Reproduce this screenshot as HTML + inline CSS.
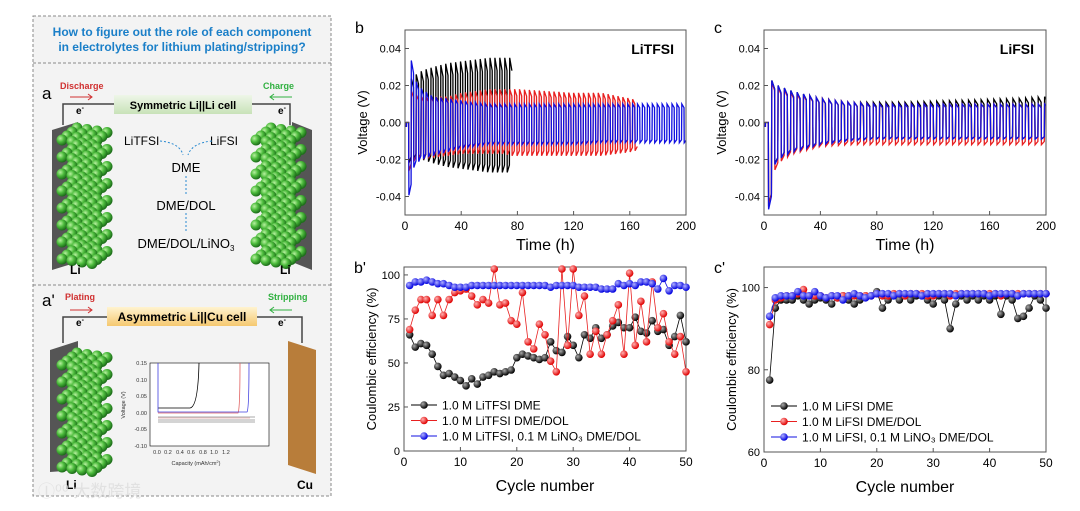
<!DOCTYPE html>
<html><head><meta charset="utf-8"><style>
body{margin:0;background:#fff;}
svg{display:block;font-family:"Liberation Sans","Noto Sans CJK SC",sans-serif;}
</style></head><body>
<svg id="fig" width="1080" height="511" viewBox="0 0 1080 511">
<defs>
<radialGradient id="ball" cx="35%" cy="35%" r="65%"><stop offset="0" stop-color="#b8f0a0"/><stop offset="0.5" stop-color="#4cbb3c"/><stop offset="1" stop-color="#1d6e1a"/></radialGradient>
<radialGradient id="bk" cx="35%" cy="35%" r="65%"><stop offset="0" stop-color="#aaa"/><stop offset="1" stop-color="#000"/></radialGradient>
<radialGradient id="rd" cx="35%" cy="35%" r="65%"><stop offset="0" stop-color="#ffb0b0"/><stop offset="1" stop-color="#e00000"/></radialGradient>
<radialGradient id="bl" cx="35%" cy="35%" r="65%"><stop offset="0" stop-color="#b0b0ff"/><stop offset="1" stop-color="#0000e0"/></radialGradient>
<linearGradient id="g1" x1="0" y1="0" x2="0" y2="1"><stop offset="0" stop-color="#eef6e8"/><stop offset="1" stop-color="#c8e2b8"/></linearGradient>
<linearGradient id="g2" x1="0" y1="0" x2="0" y2="1"><stop offset="0" stop-color="#fff3d0"/><stop offset="1" stop-color="#f5c870"/></linearGradient>
</defs>
<g>
<rect x="33" y="16" width="298" height="480" fill="#f3f3f3" stroke="#888" stroke-dasharray="3,2"/>
<line x1="33" y1="63" x2="331" y2="63" stroke="#888" stroke-dasharray="3,2"/>
<line x1="33" y1="285" x2="331" y2="285" stroke="#888" stroke-dasharray="3,2"/>
<text x="182" y="36" text-anchor="middle" font-size="12" font-weight="bold" fill="#1a7fc8">How to figure out the role of each component</text>
<text x="182" y="51" text-anchor="middle" font-size="12" font-weight="bold" fill="#1a7fc8">in electrolytes for lithium plating/stripping?</text>
<text x="42" y="99" font-size="17">a</text>
<text x="60" y="89" font-size="9" font-weight="bold" fill="#d03030">Discharge</text>
<text x="263" y="89" font-size="9" font-weight="bold" fill="#30b040">Charge</text>
<path d="M70 97h22M88 94l4 3-4 3" stroke="#d03030" fill="none"/>
<path d="M270 97h22M274 94l-4 3 4 3" stroke="#30b040" fill="none"/>
<path d="M63 125V104H290V125" stroke="#444" stroke-width="1.5" fill="none"/>
<rect x="114" y="95" width="138" height="19" fill="url(#g1)"/>
<text x="183" y="109" text-anchor="middle" font-size="11" font-weight="bold">Symmetric Li||Li cell</text>
<text x="76" y="114" font-size="10" font-weight="bold">e<tspan font-size="7" dy="-4">-</tspan></text>
<text x="278" y="114" font-size="10" font-weight="bold">e<tspan font-size="7" dy="-4">-</tspan></text>
<polygon points="52,130 78,122 78,262 52,270" fill="#555"/>
<polygon points="292,122 312,130 312,270 292,262" fill="#555"/>
<g id="balls1"></g>
<g id="balls3"></g>
<text x="124" y="145" font-size="12">LiTFSI</text>
<text x="210" y="145" font-size="12">LiFSI</text>
<path d="M160 141q20 2 23 14M212 141q-20 2 -24 14M186 176v18M186 213v18" stroke="#2a8ad0" stroke-dasharray="2,2" fill="none"/>
<text x="186" y="172" text-anchor="middle" font-size="13">DME</text>
<text x="186" y="210" text-anchor="middle" font-size="13">DME/DOL</text>
<text x="186" y="248" text-anchor="middle" font-size="13">DME/DOL/LiNO<tspan font-size="8" dy="3">3</tspan></text>
<text x="70" y="274" font-size="12" font-weight="bold">Li</text>
<text x="280" y="274" font-size="12" font-weight="bold">Li</text>
<text x="42" y="306" font-size="17">a'</text>
<text x="65" y="300" font-size="9" font-weight="bold" fill="#d03030">Plating</text>
<text x="268" y="300" font-size="9" font-weight="bold" fill="#30b040">Stripping</text>
<path d="M70 310h22M88 307l4 3-4 3" stroke="#d03030" fill="none"/>
<path d="M270 310h22M274 307l-4 3 4 3" stroke="#30b040" fill="none"/>
<path d="M63 343V317H302V343" stroke="#444" stroke-width="1.5" fill="none"/>
<rect x="107" y="307" width="150" height="19" fill="url(#g2)"/>
<text x="182" y="321" text-anchor="middle" font-size="12" font-weight="bold">Asymmetric Li||Cu cell</text>
<text x="76" y="326" font-size="10" font-weight="bold">e<tspan font-size="7" dy="-4">-</tspan></text>
<text x="278" y="326" font-size="10" font-weight="bold">e<tspan font-size="7" dy="-4">-</tspan></text>
<polygon points="50,350 78,341 78,470 50,472" fill="#555"/>
<polygon points="288,341 316,350 316,474 288,465" fill="#b87d3a"/>
<g id="balls2"></g>
<text x="66" y="489" font-size="12" font-weight="bold">Li</text>
<text x="297" y="489" font-size="12" font-weight="bold">Cu</text>
<g>
<rect x="150" y="363" width="119" height="83" fill="#fff" stroke="#000" stroke-width="0.6"/>
<g font-size="5.5" fill="#333">
<text x="147" y="365" text-anchor="end">0.15</text><text x="147" y="382" text-anchor="end">0.10</text><text x="147" y="398" text-anchor="end">0.05</text><text x="147" y="415" text-anchor="end">0.00</text><text x="147" y="431" text-anchor="end">-0.05</text><text x="147" y="448" text-anchor="end">-0.10</text>
<text x="157" y="454" text-anchor="middle">0.0</text><text x="168" y="454" text-anchor="middle">0.2</text><text x="180" y="454" text-anchor="middle">0.4</text><text x="191" y="454" text-anchor="middle">0.6</text><text x="203" y="454" text-anchor="middle">0.8</text><text x="214" y="454" text-anchor="middle">1.0</text><text x="226" y="454" text-anchor="middle">1.2</text>
<text x="196" y="465" text-anchor="middle">Capacity (mAh/cm<tspan dy="-2" font-size="4">2</tspan><tspan dy="2">)</tspan></text>
<text transform="translate(125,405) rotate(-90)" text-anchor="middle">Voltage (V)</text>
</g>
<path d="M158 408H190Q198 407 199 363" stroke="#000" fill="none" stroke-width="0.8"/>
<path d="M158 413H238Q240 410 240 363" stroke="#e06060" fill="none" stroke-width="0.8"/>
<path d="M158 363V412H247Q249 410 249 363" stroke="#4040e0" fill="none" stroke-width="0.8"/>
<path d="M158 420H255M158 417H255M158 422H255" stroke="#555" fill="none" stroke-width="0.6"/>
<path d="M158 418H250" stroke="#e08080" fill="none" stroke-width="0.6"/>
</g>
<text x="38" y="497" font-size="17" fill="#ddd" opacity="0.8">Ⓘ⁰⁰ 大数跨境</text>
</g>
<g id="charts"></g>
</svg>
<script>
// ---- data ----
var bTimes=[1,3,5,8,12,20,30,40,50,60,70,76,80,100,120,140,160,165,200];
var bBlackTop=[0,0.02,0.025,0.026,0.028,0.03,0.032,0.033,0.034,0.035,0.035,0.035,null,null,null,null,null,null,null];
var bBlackBot=[0,-0.025,-0.02,-0.02,-0.02,-0.022,-0.024,-0.025,-0.026,-0.027,-0.027,-0.027,null,null,null,null,null,null,null];
var bRedTop=[0,0.02,0.016,0.015,0.014,0.014,0.014,0.016,0.017,0.018,0.018,0.018,0.018,0.017,0.016,0.016,0.013,0.012,null];
var bRedBot=[0,-0.03,-0.022,-0.02,-0.02,-0.019,-0.018,-0.017,-0.017,-0.017,-0.017,-0.018,-0.018,-0.018,-0.018,-0.018,-0.016,-0.015,null];
var bBlueTop=[0,0.05,0.028,0.022,0.018,0.014,0.013,0.012,0.011,0.01,0.01,0.01,0.01,0.01,0.01,0.01,0.01,0.01,0.01];
var bBlueBot=[0,-0.045,-0.026,-0.022,-0.02,-0.018,-0.016,-0.014,-0.013,-0.012,-0.012,-0.012,-0.012,-0.012,-0.012,-0.011,-0.011,-0.011,-0.011];
var cTimes=[1,3,5,10,20,40,60,80,100,140,180,200];
var cBlackTop=[0,0.025,0.023,0.02,0.017,0.013,0.011,0.011,0.011,0.012,0.013,0.014];
var cBlackBot=[0,-0.048,-0.025,-0.02,-0.016,-0.012,-0.01,-0.009,-0.009,-0.009,-0.009,-0.009];
var cRedTop=[0,0.025,0.022,0.019,0.016,0.013,0.011,0.01,0.01,0.01,0.01,0.01];
var cRedBot=[0,-0.048,-0.03,-0.022,-0.017,-0.013,-0.012,-0.012,-0.012,-0.012,-0.012,-0.012];
var cBlueTop=[0,0.025,0.023,0.02,0.017,0.013,0.011,0.01,0.01,0.01,0.01,0.01];
var cBlueBot=[0,-0.05,-0.026,-0.02,-0.016,-0.012,-0.01,-0.009,-0.009,-0.009,-0.009,-0.009];
var bpBlack=[66,59,61,60,55,48,43,44,42,40,37,41,38,42,43,45,44,45,46,53,55,54,53,52,53,62,57,56,65,60,53,66,64,70,64,66,71,73,70,70,76,68,67,74,68,69,60,65,77,62];
var bpRed=[69,80,86,86,77,86,77,86,90,91,92,88,83,86,84,104,83,84,74,72,90,62,58,72,66,51,45,104,60,104,77,88,55,68,55,66,74,83,55,101,60,85,62,96,70,78,62,55,65,45];
var bpBlue=[94,96,96,97,96,95,95,94,93,93,93,94,94,94,94,94,94,94,94,94,94,94,94,94,94,93,94,94,94,94,93,93,93,93,92,92,92,95,94,95,94,96,96,95,92,98,91,94,94,93];
var cpBlack=[77.5,95,97,97,97,98,97,96,97,97.5,97,96,97.5,98,97,96,97,98,98,99,95,97,98,97,98,97,98,98,97,96,98,97,90,96,98,97,98,97,98,97,98,93.5,98,97,92.5,93,95,98,97,95];
var cpRed=[91,97,97.5,98,98,98.5,99.5,98,98,98,97.5,98,97.5,98,98,98,98,98,98,98.5,98,98,98.5,98.5,98,98.5,98.5,98.5,98,98,98.5,98.5,98,98.5,98.5,98.5,98.5,98.5,98.5,98.5,98.5,98,98.5,98.5,98.5,98.5,98.5,98.5,98.5,98.5];
var cpBlue=[93,97.5,98,98,98,99,98,98,99,98,97.5,98,98,97,98,98.5,98,97.5,98,98.5,98.5,98.5,98,98.5,98.5,98.5,98.5,98,98.5,98.5,98.5,98.5,98.5,98,98.5,98.5,98.5,98.5,98.5,98,98.5,98.5,98.5,98.5,98,98.5,98.5,98.5,98.5,98.5];
var vTicks=["0.04","0.02","0.00","-0.02","-0.04"];
var tTicks=["0","40","80","120","160","200"];
var cycTicks=["0","10","20","30","40","50"];
var bpTicks=["100","75","50","25","0"];
var cpTicks=["100","80","60"];
var legB=["1.0 M LiTFSI DME","1.0 M LiTFSI DME/DOL","1.0 M LiTFSI, 0.1 M LiNO₃ DME/DOL"];
var legC=["1.0 M LiFSI DME","1.0 M LiFSI DME/DOL","1.0 M LiFSI, 0.1 M LiNO₃ DME/DOL"];

var NS="http://www.w3.org/2000/svg";
var root=document.getElementById('charts');
function mk(t,a,p){var e=document.createElementNS(NS,t);for(var k in a)e.setAttribute(k,a[k]);(p||root).appendChild(e);return e;}
function txt(x,y,s,a,p){var e=mk('text',Object.assign({x:x,y:y},a),p);e.textContent=s;return e;}

function balls(id,x0,y0,rows){var g=document.getElementById(id);
 for(var r=0;r<rows;r++)for(var d=3;d>=0;d--)for(var c=0;c<4;c++){
  mk('circle',{cx:x0+c*10+d*5,cy:y0+r*17-d*4+c*1.5,r:5.5,fill:'url(#ball)'},g);}}
balls('balls1',62,140,8);balls('balls3',256,140,8);balls('balls2',62,365,7);

function interp(ts,vs,t){for(var i=0;i<ts.length-1;i++){if(t>=ts[i]&&t<=ts[i+1]){if(vs[i]==null||vs[i+1]==null)return null;return vs[i]+(vs[i+1]-vs[i])*(t-ts[i])/(ts[i+1]-ts[i]);}}return null;}

function voltPanel(x0,x1,y0,y1,letter,title,ts,series,period){
 var g=mk('g',{});
 
 
 var X=function(t){return x0+(t/200)*(x1-x0);}, Y=function(v){return y0+(0.05-v)/0.1*(y1-y0);};
 var clip=mk('clipPath',{id:'clip'+letter},g);mk('rect',{x:x0,y:y0,width:x1-x0,height:y1-y0},clip);
 series.forEach(function(s){
  var pts=[[X(0),Y(-0.002)],[X(ts[0]),Y(-0.002)]];var t=ts[0];var up=true;var end=ts[ts.length-1];
  while(t<=end){var top=interp(ts,s.top,t),bot=interp(ts,s.bot,t);if(top==null)break;
   var v=up?top:bot;pts.push([X(t),Y(v)]);pts.push([X(t+period/2*0.9),Y(up?top*0.8:bot*0.85)]);t+=period/2;up=!up;}
  var p=mk('polyline',{points:pts.map(function(q){return q[0].toFixed(1)+','+q[1].toFixed(1);}).join(' '),fill:'none',stroke:s.c,'stroke-width':1.3,'clip-path':'url(#clip'+letter+')'},g);
  
  
 });
 mk('rect',{x:x0,y:y0,width:x1-x0,height:y1-y0,fill:'none',stroke:'#555'},g);
 vTicks.forEach(function(s){var y=Y(parseFloat(s));mk('line',{x1:x0,x2:x0+4,y1:y,y2:y,stroke:'#555'},g);txt(x0-4,y+4,s,{'text-anchor':'end','font-size':11},g);});
 tTicks.forEach(function(s,i){var x=X(parseFloat(s));mk('line',{x1:x,x2:x,y1:y1,y2:y1-4,stroke:'#555'},g);txt(x,y1+15,s,{'text-anchor':'middle','font-size':12},g);});
 var yt=txt(0,0,'Voltage (V)',{'text-anchor':'middle','font-size':13,transform:'translate('+(x0-38)+','+((y0+y1)/2)+') rotate(-90)'},g);
 
 var xt=txt((x0+x1)/2,y1+35,'Time (h)',{'text-anchor':'middle','font-size':16},g);
 
 txt(x1-12,y0+24,title,{'text-anchor':'end','font-size':14,'font-weight':'bold'},g);
 txt(x0-50,y0+3,letter,{'font-size':16},g);
}
voltPanel(405,686,30,215,'b','LiTFSI',bTimes,[{n:'black',c:'#000',top:bBlackTop,bot:bBlackBot},{n:'red',c:'#e82020',top:bRedTop,bot:bRedBot},{n:'blue',c:'#1010e0',top:bBlueTop,bot:bBlueBot}],3.5);
voltPanel(764,1046,30,215,'c','LiFSI',cTimes,[{n:'black',c:'#000',top:cBlackTop,bot:cBlackBot},{n:'red',c:'#e82020',top:cRedTop,bot:cRedBot},{n:'blue',c:'#1010e0',top:cBlueTop,bot:cBlueBot}],4.5);

function cePanel(x0,x1,y0,y1,ymin,ymax,letter,ticks,series,leg){
 var g=mk('g',{});
 
 
 var X=function(c){return x0+(c/50)*(x1-x0);}, Y=function(v){return y1-(v-ymin)/(ymax-ymin)*(y1-y0);};
 mk('rect',{x:x0,y:y0,width:x1-x0,height:y1-y0,fill:'none',stroke:'#555'},g);
 ticks.forEach(function(s){var y=Y(parseFloat(s));mk('line',{x1:x0,x2:x0+4,y1:y,y2:y,stroke:'#555'},g);txt(x0-4,y+4,s,{'text-anchor':'end','font-size':11},g);});
 cycTicks.forEach(function(s){var x=X(parseFloat(s));mk('line',{x1:x,x2:x,y1:y1,y2:y1-4,stroke:'#555'},g);txt(x,y1+15,s,{'text-anchor':'middle','font-size':12},g);});
 series.forEach(function(s){
  var pts=s.d.map(function(v,i){return X(i+1).toFixed(1)+','+Math.max(y0+2,Y(v)).toFixed(1);}).join(' ');
  var pl=mk('polyline',{points:pts,fill:'none',stroke:s.lc,'stroke-width':0.8},g);
  
  
  s.d.forEach(function(v,i){var c=mk('circle',{cx:X(i+1),cy:Math.max(y0+2,Y(v)),r:3.8,fill:s.f},g);
   
   });
 });
 leg.forEach(function(s,i){var y=y1-46+i*15.5;var lg=mk('g',{},g);
  
  
  mk('line',{x1:x0+7,x2:x0+33,y1:y,y2:y,stroke:series[i].lc},lg);
  mk('circle',{cx:x0+20,cy:y,r:3.8,fill:series[i].f},lg);
  txt(x0+38,y+4.5,s,{'font-size':12},lg);});
 var yt=txt(0,0,'Coulombic efficiency (%)',{'text-anchor':'middle','font-size':13,transform:'translate('+(x0-28)+','+((y0+y1)/2)+') rotate(-90)'},g);
 
 var xt=txt((x0+x1)/2,y1+40,'Cycle number',{'text-anchor':'middle','font-size':16},g);
 
 txt(x0-50,y0+6,letter,{'font-size':16},g);
}
cePanel(404,686,267,451,0,104.5,"b'",bpTicks,[{n:'black',d:bpBlack,f:'url(#bk)',lc:'#000'},{n:'red',d:bpRed,f:'url(#rd)',lc:'#e82020'},{n:'blue',d:bpBlue,f:'url(#bl)',lc:'#1010e0'}],legB);
cePanel(764,1046,267,452,60,105,"c'",cpTicks,[{n:'black',d:cpBlack,f:'url(#bk)',lc:'#000'},{n:'red',d:cpRed,f:'url(#rd)',lc:'#e82020'},{n:'blue',d:cpBlue,f:'url(#bl)',lc:'#1010e0'}],legC);
</script>
</body></html>
